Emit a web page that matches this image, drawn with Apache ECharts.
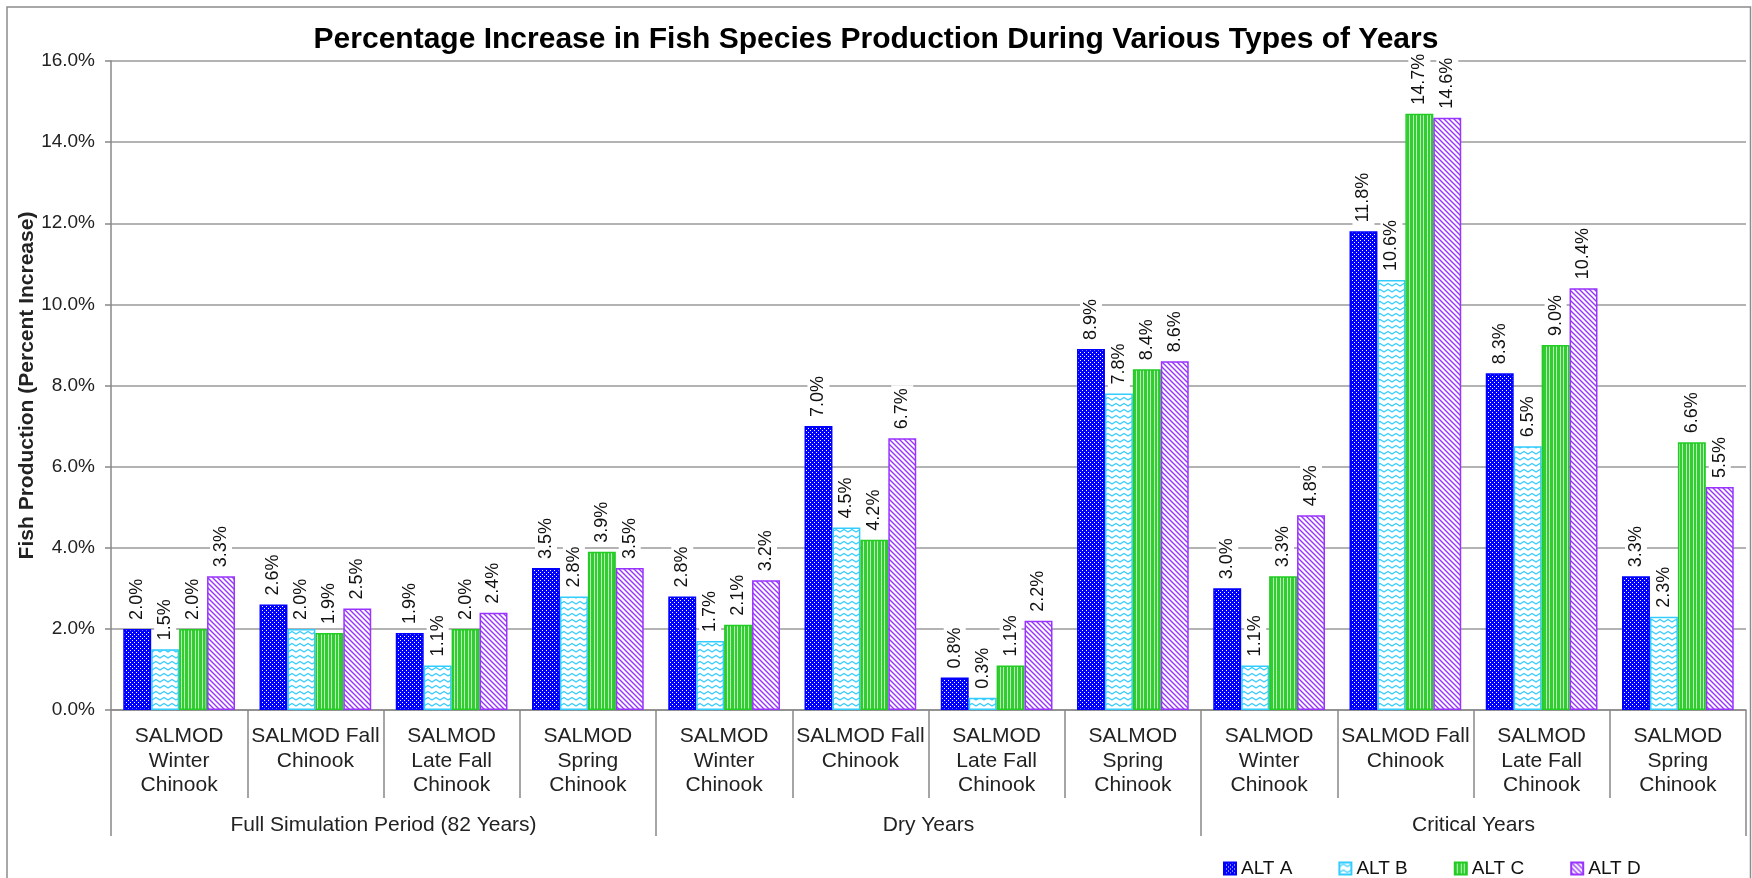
<!DOCTYPE html>
<html>
<head>
<meta charset="utf-8">
<title>Percentage Increase in Fish Species Production</title>
<script src="https://cdn.jsdelivr.net/npm/echarts@6/dist/echarts.min.js"></script>
<style>
html, body { margin: 0; padding: 0; background: #fff; }
#chart { width: 1752px; height: 878px; }
</style>
</head>
<body>
<div id="chart"></div>
<script>
const groups = ['Full Simulation Period (82 Years)', 'Dry Years', 'Critical Years']
const species = ['SALMOD\nWinter\nChinook', 'SALMOD Fall\nChinook', 'SALMOD\nLate Fall\nChinook', 'SALMOD\nSpring\nChinook']
const categories = groups.flatMap(() => species)
const seriesNames = ['ALT A', 'ALT B', 'ALT C', 'ALT D']
const altA = [2.0, 2.6, 1.9, 3.5, 2.8, 7.0, 0.8, 8.9, 3.0, 11.8, 8.3, 3.3]
const altB = [1.5, 2.0, 1.1, 2.8, 1.7, 4.5, 0.3, 7.8, 1.1, 10.6, 6.5, 2.3]
const altC = [2.0, 1.9, 2.0, 3.9, 2.1, 4.2, 1.1, 8.4, 3.3, 14.7, 9.0, 6.6]
const altD = [3.3, 2.5, 2.4, 3.5, 3.2, 6.7, 2.2, 8.6, 4.8, 14.6, 10.4, 5.5]
const yTicks = [0, 2, 4, 6, 8, 10, 12, 14, 16]

function tile(w, h, draw) {
  const c = document.createElement('canvas')
  c.width = w
  c.height = h
  draw(c.getContext('2d'))
  return { image: c, repeat: 'repeat' }
}

// excel-like hatch fills
const dotsFill = tile(4, 4, ctx => {
  ctx.fillStyle = '#0000ff'
  ctx.fillRect(0, 0, 4, 4)
  ctx.fillStyle = '#ffffff'
  ctx.fillRect(0, 0, 1, 1)
  ctx.fillRect(2, 2, 1, 1)
})
const waveFill = tile(8, 6, ctx => {
  ctx.fillStyle = '#ffffff'
  ctx.fillRect(0, 0, 8, 6)
  ctx.strokeStyle = '#33ccff'
  ctx.lineWidth = 1.3
  ctx.lineJoin = 'round'
  ctx.beginPath()
  ctx.moveTo(-1, 4.5)
  ctx.lineTo(0, 4)
  ctx.lineTo(4, 1.5)
  ctx.lineTo(8, 4)
  ctx.lineTo(9, 4.5)
  ctx.stroke()
})
const stripeFill = tile(7, 2, ctx => {
  ctx.fillStyle = '#33cc33'
  ctx.fillRect(0, 0, 7, 2)
  ctx.fillStyle = '#b8f5b8'
  ctx.fillRect(2, 0, 1, 2)
  ctx.fillRect(6, 0, 1, 2)
})
const diagFill = tile(5, 5, ctx => {
  ctx.fillStyle = '#ffffff'
  ctx.fillRect(0, 0, 5, 5)
  ctx.strokeStyle = '#9933ff'
  ctx.lineWidth = 1.4
  ctx.beginPath()
  ctx.moveTo(-1, -1); ctx.lineTo(6, 6)
  ctx.moveTo(-1, 4); ctx.lineTo(1, 6)
  ctx.moveTo(4, -1); ctx.lineTo(6, 1)
  ctx.stroke()
})

const values = [altA, altB, altC, altD]
const fills = [dotsFill, waveFill, stripeFill, diagFill]
const borders = ['#0000ff', '#33ccff', '#22cc22', '#9933ff']

const chart = echarts.init(document.getElementById('chart'))
chart.setOption({
  animation: false,
  backgroundColor: '#fff',
  textStyle: { fontFamily: 'Liberation Sans, Arial, sans-serif' },
  title: {
    text: 'Percentage Increase in Fish Species Production During Various Types of Years',
    left: 'center',
    top: 20,
    textStyle: { fontSize: 30, fontWeight: 'bold', color: '#000' }
  },
  legend: {
    data: seriesNames,
    left: 1218,
    top: 854,
    icon: 'rect',
    itemWidth: 12,
    itemHeight: 12,
    itemGap: 46,
    textStyle: { fontSize: 19, color: '#111' }
  },
  graphic: [{
    type: 'rect',
    silent: true,
    z: -10,
    shape: { x: 7, y: 7, width: 1743.5, height: 900 },
    style: { fill: 'none', stroke: '#8c8c8c', lineWidth: 1.5 }
  }],
  grid: [
    { left: 111, right: 6, top: 61, bottom: 168 },
    { left: 111, right: 6, top: 61, bottom: 168 }
  ],
  xAxis: [{
    type: 'category',
    gridIndex: 0,
    data: categories,
    axisLine: { show: true, lineStyle: { color: '#888', width: 1.5 } },
    axisTick: { show: true, length: 88, interval: 0, alignWithLabel: false, lineStyle: { color: '#888', width: 1.5 } },
    axisLabel: { interval: 0, margin: 14, fontSize: 21, lineHeight: 24.5, color: '#222' }
  }, {
    type: 'category',
    gridIndex: 1,
    data: groups,
    axisLine: { show: false },
    axisTick: { show: true, length: 126, interval: 0, alignWithLabel: false, lineStyle: { color: '#888', width: 1.5 } },
    axisLabel: { interval: 0, margin: 103, fontSize: 21, lineHeight: 24, color: '#222' }
  }],
  yAxis: [{
    type: 'value',
    gridIndex: 0,
    min: yTicks[0],
    max: yTicks[yTicks.length - 1],
    interval: yTicks[1] - yTicks[0],
    name: 'Fish Production (Percent Increase)',
    nameLocation: 'middle',
    nameRotate: 90,
    nameGap: 73,
    nameMoveOverlap: false,
    nameTextStyle: { fontSize: 21, fontWeight: 'bold', color: '#222' },
    axisLine: { show: true, lineStyle: { color: '#888', width: 1.5 } },
    axisTick: { show: true, length: 6, lineStyle: { color: '#888', width: 1.5 } },
    axisLabel: { margin: 16, fontSize: 19, color: '#222', formatter: v => v.toFixed(1) + '%' },
    splitLine: { lineStyle: { color: '#9a9a9a', width: 1.5 } }
  }, {
    type: 'value',
    gridIndex: 1,
    show: false,
    splitLine: { show: false }
  }],
  series: seriesNames.map((name, i) => ({
    name: name,
    type: 'bar',
    xAxisIndex: 0,
    yAxisIndex: 0,
    data: values[i],
    barGap: '0%',
    barCategoryGap: '18%',
    itemStyle: { color: fills[i], borderColor: borders[i], borderWidth: 1.5 },
    label: {
      show: true,
      position: 'top',
      rotate: 90,
      align: 'left',
      verticalAlign: 'middle',
      distance: 6,
      fontSize: 18,
      color: '#111',
      backgroundColor: '#fff',
      padding: [2, 3],
      formatter: p => p.value.toFixed(1) + '%'
    }
  }))
})
</script>
</body>
</html>
